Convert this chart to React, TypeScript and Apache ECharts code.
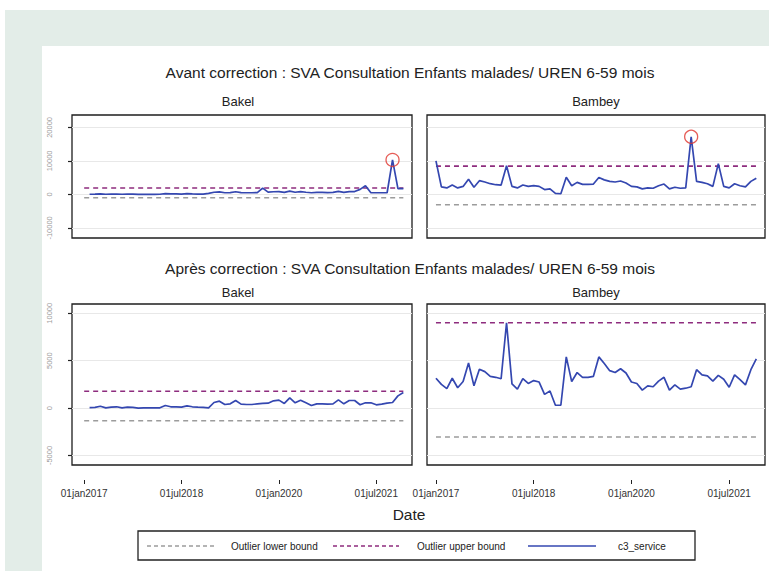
import React, { useEffect, useRef } from "react";
import * as echarts from "echarts";

// month index 0 = Jan 2017 ... 59 = Dec 2021
const tickMonths = [0, 18, 36, 54];
const tickLabels = ["01jan2017", "01jul2018", "01jan2020", "01jul2021"];

const panelNames = ["Bakel", "Bambey"];

const bakelBefore = [
  null, 60, 80, 150, 60, 100, 120, 60, 100, 80,
  40, 40, 40, 40, 60, 250, 150, 150, 120, 220,
  150, 120, 100, 300, 650, 750, 500, 550, 800, 550,
  500, 500, 550, 1900, 700, 800, 850, 600, 1000, 650,
  850, 650, 500, 600, 600, 550, 600, 900, 600, 850,
  850, 1500, 2600, 500, 500, 500, 500, 10300, 1750, 1750,
];
const bambeyBefore = [
  10000, 2250, 1950, 2800, 1950, 2400, 4550, 2150, 4100, 3700,
  3200, 2900, 2800, 8550, 2400, 1950, 2800, 2400, 2600, 2400,
  1450, 1650, 300, 200, 5150, 2600, 3600, 3000, 3000, 3100,
  5050, 4350, 3900, 3700, 4000, 3400, 2400, 2250, 1650, 1950,
  1850, 2600, 3100, 1650, 2150, 1850, 1950, 17200, 3900, 3600,
  3200, 2400, 9200, 2400, 1950, 3200, 2600, 2250, 3900, 4850,
];
const bakelAfter = [
  null, 50, 70, 200, 30, 100, 140, 30, 100, 70,
  0, 20, 20, 20, 30, 280, 140, 140, 100, 240,
  140, 100, 70, 30, 590, 730, 380, 450, 800, 420,
  380, 380, 450, 490, 520, 770, 840, 490, 1080, 560,
  840, 560, 280, 450, 450, 420, 450, 870, 450, 800,
  800, 350, 560, 560, 350, 420, 520, 590, 1290, 1640,
];
const bambeyAfter = [
  3150, 2500, 2050, 3150, 2150, 2800, 4750, 2350, 4100, 3850,
  3350, 3250, 3100, 9000, 2550, 2000, 3100, 2600, 2900, 2750,
  1450, 1800, 300, 300, 5400, 2800, 3750, 3250, 3250, 3350,
  5400, 4700, 3950, 3750, 4150, 3700, 2750, 2600, 1900, 2350,
  2250, 2850, 3250, 1900, 2450, 2000, 2100, 2250, 4050, 3500,
  3400, 2850, 3450, 3050, 2200, 3500, 3000, 2450, 4050, 5200,
];

// [Bakel, Bambey]
const lowerBefore = [-1000, -3100];
const upperBefore = [1900, 8450];
const lowerAfter = [-1330, -3050];
const upperAfter = [1780, 9000];

// circled outliers (before correction): [month index, value]
const outliersBakel = [[57, 10300]];
const outliersBambey = [[47, 17200]];

const yTicksBefore = [-10000, 0, 10000, 20000];
const yTicksAfter = [-5000, 0, 5000, 10000];

const FONT = "'Liberation Sans', Arial, sans-serif";
const BLUE = "#3447b0";
const PURPLE = "#8e2c7e";
const GREY = "#9c9c9c";

function toPairs(arr: (number | null)[]) {
  const out: number[][] = [];
  arr.forEach((v, i) => {
    if (v !== null) out.push([i, v]);
  });
  return out;
}

export default function App() {
  const ref = useRef<HTMLDivElement>(null);

  useEffect(() => {
    if (!ref.current) return;
    const chart = echarts.init(ref.current, undefined, { renderer: "svg" });

    const gridPos = [
      { left: 72, top: 115, width: 340, height: 123 },
      { left: 427, top: 115, width: 338, height: 123 },
      { left: 72, top: 304, width: 340, height: 161 },
      { left: 427, top: 304, width: 338, height: 161 },
    ];
    const grid = gridPos.map((g) => ({
      ...g,
      show: true,
      borderColor: "#1e1e1e",
      borderWidth: 1.3,
      backgroundColor: "#ffffff",
      containLabel: false,
    }));

    const xAxis = gridPos.map((_, i) => {
      const bottom = i >= 2;
      return {
        type: "value",
        gridIndex: i,
        min: i % 2 === 0 ? -2.25 : -1.65,
        max: 60.6,
        offset: bottom ? 15 : 0,
        splitLine: { show: false },
        axisLine: { show: bottom, onZero: false, lineStyle: { color: "rgba(0,0,0,0)" } },
        axisTick: {
          show: bottom,
          customValues: tickMonths,
          length: 4,
          lineStyle: { color: "#222", width: 1 },
        },
        axisLabel: {
          show: bottom,
          customValues: tickMonths,
          formatter: (v: number) => tickLabels[tickMonths.indexOf(v)] ?? "",
          fontSize: 10,
          color: "#333",
          fontFamily: FONT,
          margin: 8,
        },
      };
    });

    const yAxis = gridPos.map((_, i) => {
      const top = i < 2;
      const left = i % 2 === 0;
      const ticks = top ? yTicksBefore : yTicksAfter;
      return {
        type: "value",
        gridIndex: i,
        min: top ? -13000 : -6000,
        max: top ? 23700 : 10980,
        axisLine: { show: false, onZero: false },
        axisTick: {
          show: left,
          customValues: ticks,
          length: 4,
          lineStyle: { color: "#222", width: 1.2 },
        },
        axisLabel: {
          show: left,
          customValues: ticks,
          formatter: (v: number) => String(v),
          rotate: 90,
          fontSize: 7.5,
          color: "#9a9a9a",
          fontFamily: FONT,
          margin: 19,
        },
        splitLine: { show: true, lineStyle: { color: "#e8e8e8", width: 1 } },
      };
    });

    const dataSets = [bakelBefore, bambeyBefore, bakelAfter, bambeyAfter];
    const lowers = [lowerBefore[0], lowerBefore[1], lowerAfter[0], lowerAfter[1]];
    const uppers = [upperBefore[0], upperBefore[1], upperAfter[0], upperAfter[1]];

    const series: any[] = [];
    dataSets.forEach((arr, i) => {
      series.push({
        type: "line",
        xAxisIndex: i,
        yAxisIndex: i,
        data: [[0, lowers[i]], [59, lowers[i]]],
        showSymbol: false,
        lineStyle: { color: GREY, width: 1.6, type: [5, 4] },
        z: 2,
      });
      series.push({
        type: "line",
        xAxisIndex: i,
        yAxisIndex: i,
        data: [[0, uppers[i]], [59, uppers[i]]],
        showSymbol: false,
        lineStyle: { color: PURPLE, width: 1.6, type: [5, 4] },
        z: 2,
      });
      series.push({
        type: "line",
        xAxisIndex: i,
        yAxisIndex: i,
        data: toPairs(arr),
        showSymbol: false,
        lineStyle: { color: BLUE, width: 1.7 },
        z: 3,
      });
    });
    [outliersBakel, outliersBambey].forEach((pts, i) => {
      series.push({
        type: "scatter",
        xAxisIndex: i,
        yAxisIndex: i,
        data: pts,
        symbol: "circle",
        symbolSize: 13,
        itemStyle: { color: "rgba(0,0,0,0)", borderColor: "#e0332c", borderWidth: 1.3 },
        z: 4,
      });
    });

    const txt = (text: string, x: number, y: number, size: number, align = "center", color = "#222") => ({
      type: "text",
      x,
      y,
      style: {
        text,
        font: `${size}px ${FONT}`,
        fill: color,
        textAlign: align,
        textVerticalAlign: "middle",
      },
      z: 10,
    });

    const graphic: any[] = [
      { type: "rect", shape: { x: 5, y: 10, width: 764, height: 36 }, style: { fill: "#e3ede8" }, z: 0 },
      { type: "rect", shape: { x: 5, y: 46, width: 37, height: 525 }, style: { fill: "#e3ede8" }, z: 0 },
      txt("Avant correction : SVA Consultation Enfants malades/ UREN 6-59 mois", 410, 72, 15.5),
      txt(panelNames[0], 238, 101, 13),
      txt(panelNames[1], 596, 101, 13),
      txt("Après correction : SVA Consultation Enfants malades/ UREN 6-59 mois", 410, 268, 15.5),
      txt(panelNames[0], 238, 292, 13),
      txt(panelNames[1], 596, 292, 13),
      txt("Date", 409, 514, 15.5),
      {
        type: "rect",
        shape: { x: 138, y: 531, width: 557, height: 29 },
        style: { fill: "#fff", stroke: "#222", lineWidth: 1.3 },
        z: 9,
      },
      {
        type: "line",
        shape: { x1: 147, y1: 546, x2: 214, y2: 546 },
        style: { stroke: GREY, lineWidth: 1.4, lineDash: [4, 3] },
        z: 10,
      },
      txt("Outlier lower bound", 231, 546, 10, "left"),
      {
        type: "line",
        shape: { x1: 333, y1: 546, x2: 399, y2: 546 },
        style: { stroke: PURPLE, lineWidth: 1.4, lineDash: [4, 3] },
        z: 10,
      },
      txt("Outlier upper bound", 417, 546, 10, "left"),
      {
        type: "line",
        shape: { x1: 528, y1: 546, x2: 596, y2: 546 },
        style: { stroke: BLUE, lineWidth: 1.5 },
        z: 10,
      },
      txt("c3_service", 618, 546, 10, "left"),
    ];

    chart.setOption({
      animation: false,
      backgroundColor: "#ffffff",
      grid,
      xAxis,
      yAxis,
      series,
      graphic,
    });

    return () => chart.dispose();
  }, []);

  return (
    <div
      ref={ref}
      style={{ position: "absolute", left: 0, top: 0, width: 769, height: 571 }}
    />
  );
}
